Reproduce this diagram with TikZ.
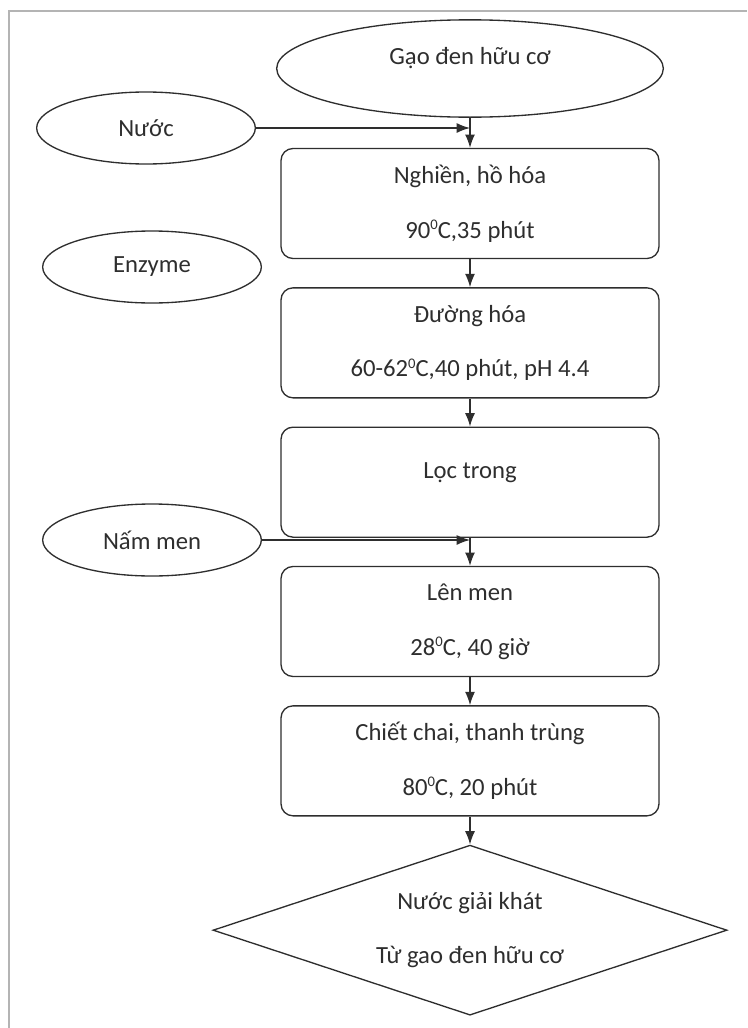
\documentclass[tikz,border=0pt]{standalone}
\usepackage{fontspec}
\setmainfont{Carlito}
\usetikzlibrary{shapes.geometric, arrows.meta, positioning, calc}
\definecolor{ink}{HTML}{2E2E2E}
\definecolor{framegray}{HTML}{B4B4B4}
\newcommand{\supzero}{\raisebox{6.5pt}{\fontsize{11}{11}\selectfont 0}}

\begin{document}
\begin{tikzpicture}[x=0.75pt, y=-0.75pt, font=\fontsize{18.5}{22}\selectfont, text=ink,
    node distance=21pt,
    stepbox/.style={draw=ink, line width=1pt, rounded corners=9pt, minimum width=283.5pt, minimum height=82.5pt, align=center, inner sep=0pt},
    source/.style={draw=ink, line width=1pt, ellipse, minimum width=164pt, minimum height=54pt, inner sep=0pt},
    uptext/.style={text height=13pt, text depth=19pt},
    arrow/.style={-{Latex[length=10pt, width=7.5pt]}, draw=ink, line width=1pt}]
    \useasboundingbox (0,0) rectangle (747,1028);
    \draw[framegray, line width=1pt] (9,1028) -- (9,11) -- (747,11);

    % main column
    \node[source, uptext, minimum width=290pt, minimum height=73pt] (gao) at (470,68.5) {Gạo đen hữu cơ};
    \node[stepbox, below=22.5pt of gao] (nghien) {Nghiền, hồ hóa\\[19pt]90\supzero C,35 phút};
    \node[stepbox, below=of nghien] (duonghoa) {Đường hóa\\[19pt]60-62\supzero C,40 phút, pH 4.4};
    \node[stepbox, uptext, below=of duonghoa] (loc) {Lọc trong};
    \node[stepbox, below=of loc] (lenmen) {Lên men\\[19pt]28\supzero C, 40 giờ};
    \node[stepbox, below=of lenmen] (chietchai) {Chiết chai, thanh trùng\\[19pt]80\supzero C, 20 phút};
    \node[draw=ink, line width=1pt, diamond, aspect=3, minimum width=385.5pt, minimum height=127.5pt, inner sep=0pt, align=center, below=21pt of chietchai] (thanhpham) {Nước giải khát\\[19pt]Từ gao đen hữu cơ};

    % inputs on the left
    \node[source] (nuoc) at (146,128) {Nước};
    \node[source] (enzyme) at (152,267) {Enzyme};
    \node[source] (nammen) at (152,540) {Nấm men};

    \draw[arrow] (gao) -- (nghien);
    \draw[arrow] (nuoc.east) -- (nuoc.east -| gao.south);
    \draw[arrow] (nghien) -- (duonghoa);
    \draw[arrow] (duonghoa) -- (loc);
    \draw[arrow] (loc) -- (lenmen);
    \draw[arrow] (nammen.east) -- (nammen.east -| loc.south);
    \draw[arrow] (lenmen) -- (chietchai);
    \draw[arrow] (chietchai) -- (thanhpham);
\end{tikzpicture}
\end{document}
